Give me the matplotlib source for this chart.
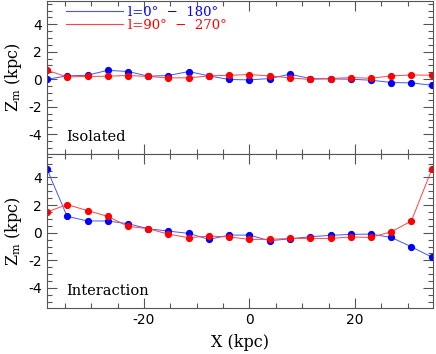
import matplotlib
matplotlib.use("Agg")
import matplotlib.pyplot as plt
from matplotlib.ticker import MultipleLocator
from matplotlib.lines import Line2D

x_kpc = [-38.4, -34.6, -30.7, -26.9, -23.0, -19.2, -15.4, -11.5, -7.7, -3.8,
         0.0, 3.8, 7.7, 11.5, 15.4, 19.2, 23.0, 26.9, 30.7, 34.6]

iso_blue = [0.0, 0.24, 0.29, 0.65, 0.56, 0.22, 0.27, 0.56, 0.24, -0.02,
            -0.05, 0.05, 0.36, 0.05, 0.02, 0.0, -0.07, -0.24, -0.27, -0.44]
iso_red = [0.65, 0.17, 0.2, 0.22, 0.27, 0.2, 0.1, 0.1, 0.24, 0.29,
           0.34, 0.24, 0.1, -0.02, 0.05, 0.12, 0.07, 0.24, 0.31, 0.29]

int_blue = [4.61, 1.19, 0.85, 0.85, 0.65, 0.29, 0.12, -0.05, -0.48, -0.17,
            -0.17, -0.58, -0.44, -0.29, -0.19, -0.12, -0.1, -0.34, -1.02, -1.77]
int_red = [1.5, 2.04, 1.6, 1.19, 0.46, 0.29, -0.1, -0.36, -0.24, -0.31,
           -0.48, -0.48, -0.41, -0.41, -0.41, -0.31, -0.34, 0.07, 0.85, 4.61]

legend_labels = ["l=0°  −  180°", "l=90°  −  270°"]
panel_names = ["Isolated", "Interaction"]

plt.rcParams["mathtext.fontset"] = "dejavuserif"

W, H = 436, 354
fig = plt.figure(figsize=(W / 100, H / 100), dpi=100)
left, right = 47 / W, 433 / W
top_px, mid_px, bot_px = 1, 154, 308
ax1 = fig.add_axes([left, 1 - mid_px / H, right - left, (mid_px - top_px) / H])
ax2 = fig.add_axes([left, 1 - bot_px / H, right - left, (bot_px - mid_px) / H])

serif = ["DejaVu Serif"]
frame_col = "#555555"
line_blue = "#4455ff"
line_red = "#ff4444"

for ax, yb, yr, name in [(ax1, iso_blue, iso_red, panel_names[0]),
                         (ax2, int_blue, int_red, panel_names[1])]:
    ax.plot(x_kpc, yb, "-", color=line_blue, lw=0.7, marker="o", ms=4.2,
            mfc="blue", mec="blue")
    ax.plot(x_kpc, yr, "-", color=line_red, lw=0.7, marker="o", ms=4.2,
            mfc="red", mec="red")
    ax.set_xlim(-38.4, 34.8)
    ax.set_ylim(-5.45, 5.7)
    ax.xaxis.set_major_locator(MultipleLocator(20))
    ax.xaxis.set_minor_locator(MultipleLocator(5))
    ax.yaxis.set_major_locator(MultipleLocator(2))
    ax.yaxis.set_minor_locator(MultipleLocator(0.5))
    ax.tick_params(which="both", direction="in", top=True, right=True,
                   color=frame_col, width=0.8, labelsize=10)
    ax.tick_params(which="major", length=7)
    ax.tick_params(which="minor", length=3.5)
    for s in ax.spines.values():
        s.set_color(frame_col)
        s.set_linewidth(0.8)
    ax.set_ylabel("Z$_{\\rm m}$ (kpc)", family=serif, fontsize=11.5, labelpad=3)
    ax.text(-34.8, -4.2, name, family=serif, fontsize=10.5, va="center", ha="left")
    ax.set_yticks([-4, -2, 0, 2, 4])
    ax.set_yticklabels(["-4", "-2", "0", "2", "4"])

ax1.tick_params(labelbottom=False)
ax2.set_xticks([-20, 0, 20])
ax2.set_xticklabels(["-20", "0", "20"])
ax2.set_xlabel("X (kpc)", family=serif, fontsize=11.5, labelpad=5)

handles = [Line2D([], [], color=line_blue, lw=0.8),
           Line2D([], [], color=line_red, lw=0.8)]
leg = ax1.legend(handles, legend_labels, loc="upper left",
                 bbox_to_anchor=(0.036, 1.005), frameon=False,
                 prop={"family": serif, "size": 9.5}, handlelength=4.3,
                 handletextpad=0.37, labelspacing=0.0, borderaxespad=0.0)
for txt, c in zip(leg.get_texts(), ["blue", "red"]):
    txt.set_color(c)

fig.savefig("out.png", dpi=100)
